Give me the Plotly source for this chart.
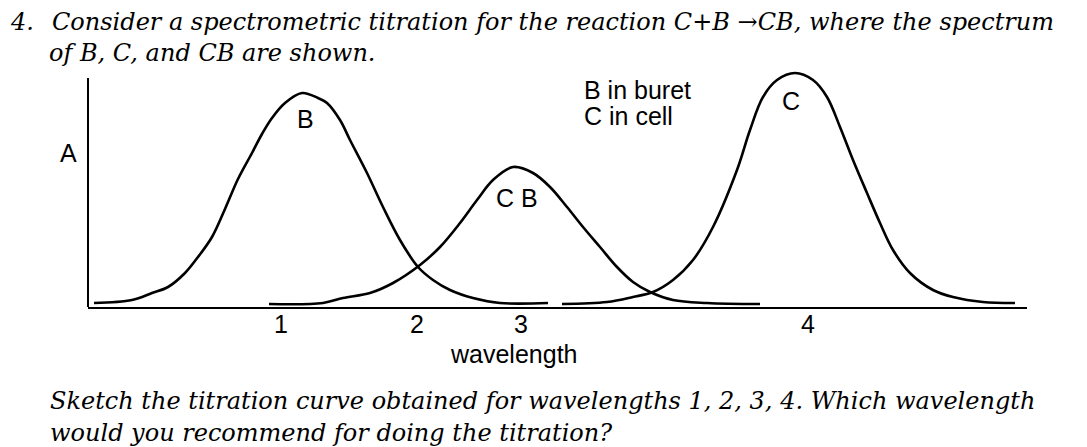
import plotly.graph_objects as go

# ---- data (wavelength in arbitrary units, absorbance in arbitrary units) ----
b_wl = [94, 132, 152, 168, 185, 198, 212, 225, 238, 252, 262, 272, 285, 302, 318, 327, 340, 350,
        367, 383, 400, 418, 433, 450, 473, 500, 548]
b_abs = [4, 7, 14, 20, 34, 50, 70, 98, 128, 154, 173, 189, 204, 214, 209, 204, 187, 167,
         134, 100, 67, 40, 27, 17, 9, 4, 4]

cb_wl = [269, 323, 343, 370, 393, 420, 440, 460, 477, 493, 513, 533, 550, 567, 583, 600, 617,
         633, 650, 673, 707, 760]
cb_abs = [3, 4, 9, 14, 24, 42, 60, 84, 107, 127, 140, 134, 120, 100, 80, 60, 40,
          25, 15, 7, 4, 3]

c_wl = [562, 607, 633, 653, 673, 693, 713, 737, 750, 763, 777, 795, 813, 827, 840, 853, 867,
        880, 893, 910, 933, 953, 983, 1015]
c_abs = [3, 5, 10, 15, 27, 47, 80, 137, 177, 210, 227, 234, 227, 210, 180, 147, 114,
         84, 57, 34, 17, 10, 5, 4]

tick_vals = [281, 417, 521, 808]
tick_text = ["1", "2", "3", "4"]

# ---- layout geometry ----
W, H = 1087, 447
ML, MR, MT, MB = 88, 60, 64, 140
X_RANGE = [88, 1027]
Y_RANGE = [0, 243]
AXIS_TOP = 229  # top end of the drawn absorbance axis line

SANS = "Liberation Sans, Arial, sans-serif"
SERIF = "DejaVu Serif, serif"


def P(px, py):
    """pixel position -> paper coordinates"""
    pw = W - ML - MR
    ph = H - MT - MB
    return (px - ML) / pw, (H - MB - py) / ph


fig = go.Figure()
for wl, ab in [(b_wl, b_abs), (cb_wl, cb_abs), (c_wl, c_abs)]:
    fig.add_trace(go.Scatter(x=wl, y=ab, mode="lines",
                             line=dict(color="black", width=2.6, shape="spline", smoothing=1.0),
                             hoverinfo="skip"))

fig.add_shape(type="line", xref="paper", yref="y", x0=0, x1=0, y0=0, y1=AXIS_TOP,
              line=dict(color="black", width=2))


def ann(text, px, py, size, family, xanchor="center", italic=False):
    x, y = P(px, py)
    fig.add_annotation(text=("<i>%s</i>" % text) if italic else text,
                       x=x, y=y, xref="paper", yref="paper",
                       xanchor=xanchor, yanchor="middle", showarrow=False,
                       font=dict(size=size, family=family, color="black"))


ann("4.", 8, 22, 24, SERIF, "left", True)
ann("Consider a spectrometric titration for the reaction C+B →CB, where the spectrum", 50, 22, 24, SERIF, "left", True)
ann("of B, C, and CB are shown.", 47, 53, 24, SERIF, "left", True)
ann("Sketch the titration curve obtained for wavelengths 1, 2, 3, 4. Which wavelength", 48, 401, 24, SERIF, "left", True)
ann("would you recommend for doing the titration?", 48, 433, 24, SERIF, "left", True)

ann("A", 68, 153, 25, SANS)
ann("B", 305, 119, 25, SANS)
ann("C B", 517, 198, 25, SANS)
ann("C", 791, 101, 25, SANS)
ann("B in buret", 582, 90, 25, SANS, "left")
ann("C in cell", 582, 116, 25, SANS, "left")
ann("wavelength", 513, 354, 25, SANS)

fig.update_layout(
    width=W, height=H,
    margin=dict(l=ML, r=MR, t=MT, b=MB),
    paper_bgcolor="white", plot_bgcolor="white",
    showlegend=False,
    xaxis=dict(range=X_RANGE, showline=True, linecolor="black", linewidth=2,
               showgrid=False, zeroline=False, ticks="",
               tickvals=tick_vals, ticktext=tick_text, ticklabelstandoff=-6,
               tickfont=dict(size=25, family=SANS, color="black")),
    yaxis=dict(range=Y_RANGE, visible=False, showgrid=False, zeroline=False),
)

fig.write_html("out.html")
